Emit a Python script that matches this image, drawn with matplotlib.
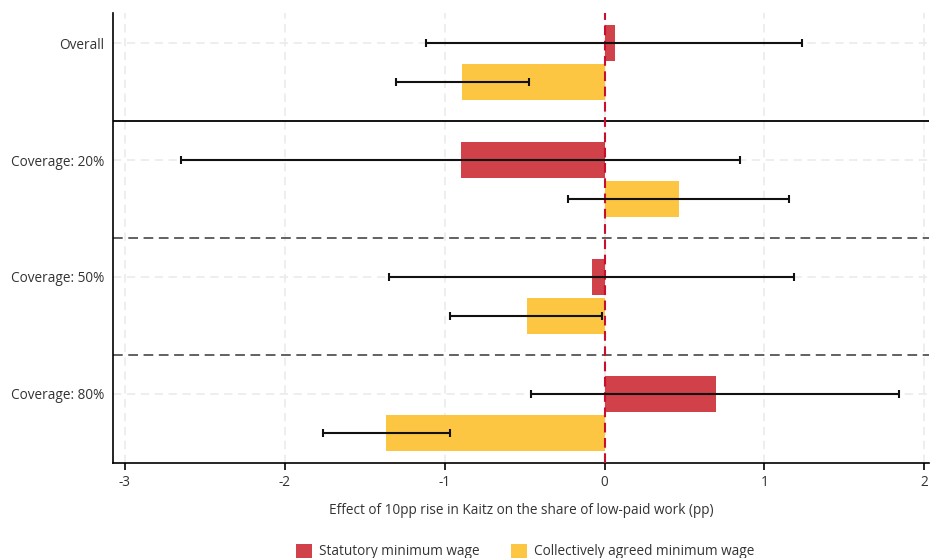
import matplotlib
matplotlib.use("Agg")
import matplotlib.pyplot as plt
from matplotlib.patches import Patch
import numpy as np

plt.rcParams['font.family'] = ['Open Sans', 'DejaVu Sans']
plt.rcParams['lines.scale_dashes'] = False

categories = ["Overall", "Coverage: 20%", "Coverage: 50%", "Coverage: 80%"]
series_names = ["Statutory minimum wage", "Collectively agreed minimum wage"]

stat_vals = [0.063, -0.90, -0.081, 0.695]
stat_lo = [-1.116, -2.65, -1.346, -0.459]
stat_hi = [1.234, 0.845, 1.188, 1.843]

coll_vals = [-0.889, 0.463, -0.488, -1.365]
coll_lo = [-1.302, -0.23, -0.964, -1.761]
coll_hi = [-0.474, 1.152, -0.013, -0.964]

xticks = [-3, -2, -1, 0, 1, 2]
xlabel = "Effect of 10pp rise in Kaitz on the share of low-paid work (pp)"

RED = "#d0414a"
YELLOW = "#fcc542"
TXT = "#333333"
FS = 9.8

fig = plt.figure(figsize=(9.3, 5.58), dpi=100)
ax = fig.add_axes([113/930, 1-463/558, (929-113)/930, (463-13)/558])

n = len(categories)
pos_red = np.arange(n) * 3.0
pos_yel = pos_red + 1.0

ax.barh(pos_red, stat_vals, height=0.92, color=RED, zorder=3)
ax.barh(pos_yel, coll_vals, height=0.92, color=YELLOW, zorder=3)

sv = np.array(stat_vals); cv = np.array(coll_vals)
ax.errorbar(sv, pos_red, xerr=[sv - np.array(stat_lo), np.array(stat_hi) - sv],
            fmt='none', ecolor='#111111', elinewidth=1.5, capsize=3, capthick=1.5, zorder=5)
ax.errorbar(cv, pos_yel, xerr=[cv - np.array(coll_lo), np.array(coll_hi) - cv],
            fmt='none', ecolor='#111111', elinewidth=1.5, capsize=3, capthick=1.5, zorder=5)

# zero line
ax.axvline(0, color="#c8102e", lw=1.5, dashes=(7, 4), zorder=4)

# separators
for i in range(1, n):
    y = pos_red[i] - 1.0
    if i == 1:
        ax.axhline(y, color="black", lw=1.3, zorder=2)
    else:
        ax.axhline(y, color="#555555", lw=1.3, dashes=(7, 4), zorder=2)

ax.set_xlim(-3.075, 2.03)
ax.set_ylim(pos_yel[-1] + 0.77, pos_red[0] - 0.77)

ax.set_xticks(xticks)
ax.set_xticklabels([str(t) for t in xticks])
ax.set_yticks(pos_red)
ax.set_yticklabels(categories)

ax.grid(True, color="#ebebeb", lw=1.2, dashes=(6, 4), zorder=0)
ax.set_axisbelow(True)

for s in ["top", "right"]:
    ax.spines[s].set_visible(False)
for s in ["left", "bottom"]:
    ax.spines[s].set_color("black")
    ax.spines[s].set_linewidth(1.2)

ax.tick_params(axis='y', length=0, pad=6.5, labelsize=FS, labelcolor=TXT)
ax.tick_params(axis='x', length=5, width=1.2, pad=4, labelsize=FS, labelcolor=TXT)
ax.set_xlabel(xlabel, fontsize=FS, color=TXT, labelpad=9)

handles = [Patch(facecolor=RED, edgecolor='none', label=series_names[0]),
           Patch(facecolor=YELLOW, edgecolor='none', label=series_names[1])]
fig.legend(handles=handles, loc='lower center', bbox_to_anchor=(525/930, -0.024), ncol=2,
           frameon=False, fontsize=FS, handlelength=1.2, handleheight=1.2,
           handletextpad=0.5, columnspacing=2.3, labelcolor=TXT)

fig.savefig("out.png", dpi=100)
